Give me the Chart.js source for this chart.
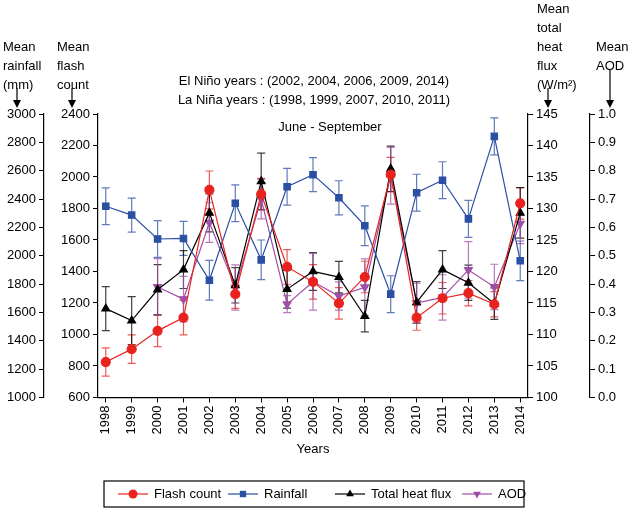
<!DOCTYPE html>
<html>
<head>
<meta charset="utf-8">
<script src="https://cdn.jsdelivr.net/npm/chart.js@4"></script>
<style>
body { margin: 0; background: #fff; }
#wrap { width: 634px; height: 511px; }
</style>
</head>
<body>
<div id="wrap"><canvas id="c"></canvas></div>
<script>
const years = [1998,1999,2000,2001,2002,2003,2004,2005,2006,2007,2008,2009,2010,2011,2012,2013,2014];
const flash = [825,907,1023,1107,1918,1256,1891,1429,1334,1198,1365,2015,1107,1230,1262,1192,1833];
const flashErr = [90,90,100,110,120,90,100,110,110,100,100,110,80,100,80,80,100];
const rain = [2349,2287,2118,2122,1827,2370,1971,2487,2572,2409,2212,1729,2445,2533,2260,2842,1964];
const rainErr = [130,120,130,120,140,130,140,130,120,120,140,130,130,130,130,130,140];
const heat = [114.1,112.2,117.1,120.3,129.3,117.8,134.3,117.2,120,119.1,112.9,136.3,115.1,120.3,118.2,114.9,129.3];
const heatErr = [3.5,3.8,4,3,3,2.8,4.5,3,3,2.5,2.5,3.6,3.3,3,2.8,2.5,4];
const aod = [null,null,0.39,0.347,0.617,0.388,0.70,0.329,0.408,0.358,0.389,0.782,0.333,0.353,0.45,0.39,0.613];
const aodErr = [0,0,0.1,0.08,0.07,0.08,0.07,0.03,0.1,0.05,0.1,0.1,0.07,0.08,0.1,0.08,0.07];

const RED = '#e8231f', BLUE = '#2b4fa3', PURPLE = '#a04ea6';
const FONT = 'Liberation Sans, Arial, sans-serif';

function ds(label, data, err, color, axis, style, rot) {
  return {
    label: label, data: years.map((y, i) => ({x: y, y: data[i]})), err: err,
    yAxisID: axis, borderColor: color, backgroundColor: color, borderWidth: 1.2,
    pointStyle: style, pointRadius: 4.5, pointRotation: rot || 0, spanGaps: false
  };
}

const errorBars = {
  id: 'errorBars',
  beforeDatasetsDraw(chart) {
    const ctx = chart.ctx;
    chart.data.datasets.forEach((d, di) => {
      const meta = chart.getDatasetMeta(di);
      const sc = chart.scales[d.yAxisID];
      ctx.save();
      ctx.strokeStyle = d.borderColor;
      ctx.globalAlpha = 0.75;
      ctx.lineWidth = 1.2;
      meta.data.forEach((p, i) => {
        const v = d.data[i].y;
        if (v == null || !d.err[i]) return;
        const y1 = sc.getPixelForValue(v + d.err[i]);
        const y2 = sc.getPixelForValue(v - d.err[i]);
        ctx.beginPath();
        ctx.moveTo(p.x, y1); ctx.lineTo(p.x, y2);
        ctx.moveTo(p.x - 4, y1); ctx.lineTo(p.x + 4, y1);
        ctx.moveTo(p.x - 4, y2); ctx.lineTo(p.x + 4, y2);
        ctx.stroke();
      });
      ctx.restore();
    });
  }
};

function arrow(ctx, x, y1, y2) {
  ctx.beginPath();
  ctx.moveTo(x, y1); ctx.lineTo(x, y2 - 6); ctx.stroke();
  ctx.beginPath();
  ctx.moveTo(x - 4, y2 - 8); ctx.lineTo(x + 4, y2 - 8); ctx.lineTo(x, y2); ctx.closePath(); ctx.fill();
}

const texts = {
  id: 'texts',
  afterDraw(chart) {
    const ctx = chart.ctx;
    ctx.save();
    ctx.fillStyle = '#000'; ctx.strokeStyle = '#000'; ctx.lineWidth = 1.2;
    ctx.font = '13px ' + FONT;
    ctx.textBaseline = 'alphabetic';
    ctx.textAlign = 'left';
    ['Mean', 'rainfall', '(mm)'].forEach((t, i) => ctx.fillText(t, 3, 51 + i * 19));
    ['Mean', 'flash', 'count'].forEach((t, i) => ctx.fillText(t, 57, 51 + i * 19));
    ['Mean', 'total', 'heat', 'flux', '(W/m²)'].forEach((t, i) => ctx.fillText(t, 537, 13 + i * 19));
    ['Mean', 'AOD'].forEach((t, i) => ctx.fillText(t, 596, 51 + i * 19));
    arrow(ctx, 17, 88, 108);
    arrow(ctx, 72, 88, 108);
    arrow(ctx, 548, 88, 108);
    arrow(ctx, 610, 70, 108);
    ctx.textAlign = 'center';
    ctx.fillText('El Niño years : (2002, 2004, 2006, 2009, 2014)', 314, 85);
    ctx.fillText('La Niña years : (1998, 1999, 2007, 2010, 2011)', 314, 104);
    ctx.fillText('June - September', 330, 131);
    // legend
    ctx.strokeRect(104, 481, 420, 26);
    const items = [
      ['Flash count', RED, 'circle', 0, 118],
      ['Rainfall', BLUE, 'rect', 0, 228],
      ['Total heat flux', '#000', 'triangle', 0, 335],
      ['AOD', PURPLE, 'triangle', 180, 462]
    ];
    ctx.textAlign = 'left'; ctx.textBaseline = 'middle';
    items.forEach(([t, c, s, r, x]) => {
      ctx.strokeStyle = c; ctx.fillStyle = c;
      ctx.beginPath(); ctx.moveTo(x, 494); ctx.lineTo(x + 30, 494); ctx.stroke();
      Chart.helpers.drawPoint(ctx, {pointStyle: s, radius: 4.5, rotation: r}, x + 15, 494);
      ctx.fillStyle = '#000';
      ctx.fillText(t, x + 36, 494);
    });
    ctx.restore();
  }
};

function yAxis(pos, min, max, step, width, digits) {
  return {
    type: 'linear', position: pos, min: min, max: max,
    ticks: { stepSize: step, color: '#000', font: {family: FONT, size: 13}, padding: 3,
      callback: v => digits ? v.toFixed(digits) : v },
    grid: { drawOnChartArea: false, tickLength: 5, color: '#000' },
    border: { display: true, color: '#000', width: 1.2 },
    afterFit: s => { s.width = width; }
  };
}

new Chart(document.getElementById('c'), {
  type: 'line',
  data: {
    datasets: [
      ds('Flash count', flash, flashErr, RED, 'yFlash', 'circle'),
      ds('Rainfall', rain, rainErr, BLUE, 'yRain', 'rect'),
      ds('Total heat flux', heat, heatErr, '#000', 'yHeat', 'triangle'),
      ds('AOD', aod, aodErr, PURPLE, 'yAod', 'triangle', 180)
    ]
  },
  options: {
    responsive: true, maintainAspectRatio: false, animation: false,
    layout: { padding: { top: 114, bottom: 50, left: 0, right: 0 } },
    plugins: { legend: { display: false }, tooltip: { enabled: false } },
    scales: {
      x: {
        type: 'linear', min: 1997.7, max: 2014.3,
        afterBuildTicks: s => { s.ticks = years.map(y => ({value: y})); },
        ticks: { minRotation: 90, maxRotation: 90, color: '#000', font: {family: FONT, size: 13},
          callback: v => String(v) },
        grid: { drawOnChartArea: false, tickLength: 5, color: '#000' },
        border: { display: true, color: '#000', width: 1.2 },
        title: { display: true, text: 'Years', color: '#000', font: {family: FONT, size: 13}, padding: {top: 4} }
      },
      yFlash: yAxis('left', 600, 2400, 200, 54, 0),
      yRain: yAxis('left', 1000, 3000, 200, 44, 0),
      yHeat: yAxis('right', 100, 145, 5, 62, 0),
      yAod: yAxis('right', 0, 1, 0.1, 44, 1)
    }
  },
  plugins: [errorBars, texts]
});
</script>
</body>
</html>
